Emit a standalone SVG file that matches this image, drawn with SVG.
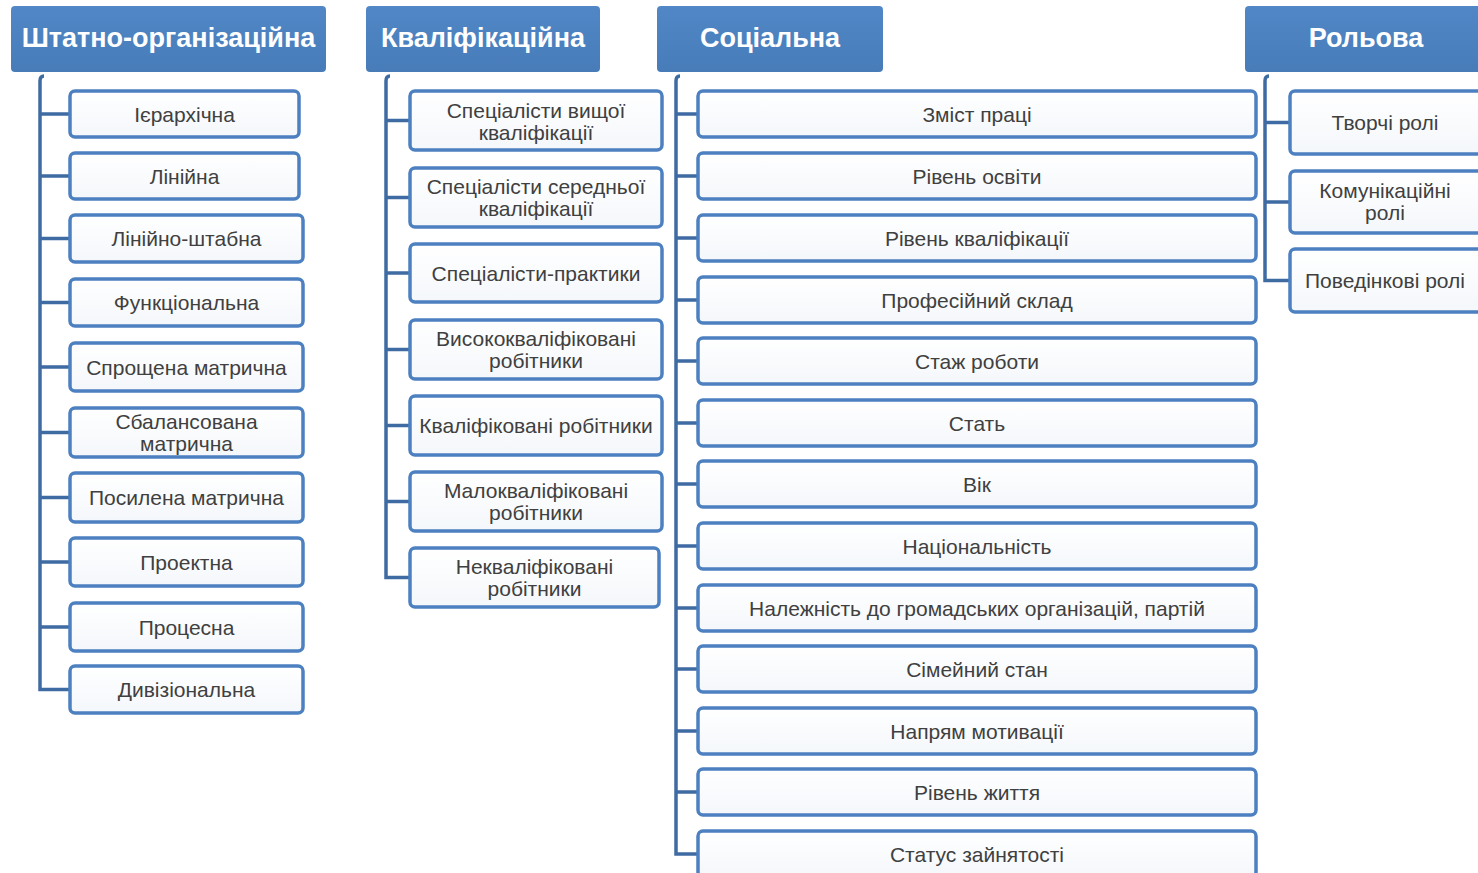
<svg xmlns="http://www.w3.org/2000/svg" width="1478" height="873" viewBox="0 0 1478 873">
<defs>
<linearGradient id="hg" x1="0" y1="0" x2="0" y2="1"><stop offset="0" stop-color="#5187c6"/><stop offset="1" stop-color="#477cb9"/></linearGradient>
<linearGradient id="bg" x1="0" y1="0" x2="0" y2="1"><stop offset="0" stop-color="#ffffff"/><stop offset="1" stop-color="#f4f7fb"/></linearGradient>
</defs>
<style>
.h{fill:url(#hg);}
.ht{fill:#ffffff;font-family:"Liberation Sans",Arial,sans-serif;font-weight:bold;font-size:27px;text-anchor:middle;dominant-baseline:central;}
.b{fill:url(#bg);stroke:#4c80c0;stroke-width:3.5;}
.t{fill:#404040;font-family:"Liberation Sans",Arial,sans-serif;font-size:21px;text-anchor:middle;dominant-baseline:central;}
.c{fill:none;stroke:#3f6ba3;stroke-width:3.5;}
</style>
<rect width="1478" height="873" fill="#ffffff"/>
<g id="connectors">
<path class="c" d="M44,76 Q40,76 40,81 V689.5 H70"/>
<path class="c" d="M40,114 H70 M40,176 H70 M40,238.5 H70 M40,302.5 H70 M40,367 H70 M40,432.5 H70 M40,497.5 H70 M40,562 H70 M40,627 H70"/>
<path class="c" d="M390,76 Q386,76 386,81 V577.5 H410"/>
<path class="c" d="M386,120.5 H410 M386,197.5 H410 M386,273 H410 M386,349.5 H410 M386,425.5 H410 M386,501.5 H410"/>
<path class="c" d="M680,76 Q676,76 676,81 V854 H698"/>
<path class="c" d="M676,114 H698 M676,176 H698 M676,238 H698 M676,300 H698 M676,361 H698 M676,423 H698 M676,484 H698 M676,546 H698 M676,608 H698 M676,669 H698 M676,731 H698 M676,792 H698"/>
<path class="c" d="M1269,76 Q1265,76 1265,81 V280.5 H1290"/>
<path class="c" d="M1265,122.5 H1290 M1265,202 H1290"/>
</g>
<g id="h1"><rect class="h" x="11" y="6" width="315" height="66" rx="4"/><text class="ht" x="168.5" y="38">Штатно-організаційна</text></g>
<g id="h2"><rect class="h" x="366" y="6" width="234" height="66" rx="4"/><text class="ht" x="483" y="38">Кваліфікаційна</text></g>
<g id="h3"><rect class="h" x="657" y="6" width="226" height="66" rx="4"/><text class="ht" x="770" y="38">Соціальна</text></g>
<g id="h4"><rect class="h" x="1245" y="6" width="245" height="66" rx="4"/><text class="ht" x="1366" y="38">Рольова</text></g>

<g id="n1_1"><rect class="b" x="70" y="91" width="229" height="46" rx="5"/><text class="t" x="184.5" y="114">Ієрархічна</text></g>
<g id="n1_2"><rect class="b" x="70" y="153" width="229" height="46" rx="5"/><text class="t" x="184.5" y="176">Лінійна</text></g>
<g id="n1_3"><rect class="b" x="70" y="215" width="233" height="47" rx="5"/><text class="t" x="186.5" y="238.5">Лінійно-штабна</text></g>
<g id="n1_4"><rect class="b" x="70" y="279" width="233" height="47" rx="5"/><text class="t" x="186.5" y="302.5">Функціональна</text></g>
<g id="n1_5"><rect class="b" x="70" y="343" width="233" height="48" rx="5"/><text class="t" x="186.5" y="367">Спрощена матрична</text></g>
<g id="n1_6"><rect class="b" x="70" y="408" width="233" height="49" rx="5"/><text class="t" x="186.5" y="421.5">Сбалансована</text><text class="t" x="186.5" y="443.5">матрична</text></g>
<g id="n1_7"><rect class="b" x="70" y="473" width="233" height="49" rx="5"/><text class="t" x="186.5" y="497.5">Посилена матрична</text></g>
<g id="n1_8"><rect class="b" x="70" y="538" width="233" height="48" rx="5"/><text class="t" x="186.5" y="562">Проектна</text></g>
<g id="n1_9"><rect class="b" x="70" y="603" width="233" height="48" rx="5"/><text class="t" x="186.5" y="627">Процесна</text></g>
<g id="n1_10"><rect class="b" x="70" y="666" width="233" height="47" rx="5"/><text class="t" x="186.5" y="689.5">Дивізіональна</text></g>

<g id="n2_1"><rect class="b" x="410" y="91" width="252" height="59" rx="5"/><text class="t" x="536" y="110">Спеціалісти вищої</text><text class="t" x="536" y="132">кваліфікації</text></g>
<g id="n2_2"><rect class="b" x="410" y="168" width="252" height="59" rx="5"/><text class="t" x="536" y="186.5">Спеціалісти середньої</text><text class="t" x="536" y="208.5">кваліфікації</text></g>
<g id="n2_3"><rect class="b" x="410" y="244" width="252" height="58" rx="5"/><text class="t" x="536" y="273">Спеціалісти-практики</text></g>
<g id="n2_4"><rect class="b" x="410" y="320" width="252" height="59" rx="5"/><text class="t" x="536" y="338.5">Висококваліфіковані</text><text class="t" x="536" y="360.5">робітники</text></g>
<g id="n2_5"><rect class="b" x="410" y="396" width="252" height="59" rx="5"/><text class="t" x="536" y="425.5">Кваліфіковані робітники</text></g>
<g id="n2_6"><rect class="b" x="410" y="472" width="252" height="59" rx="5"/><text class="t" x="536" y="490.5">Малокваліфіковані</text><text class="t" x="536" y="512.5">робітники</text></g>
<g id="n2_7"><rect class="b" x="410" y="548" width="249" height="59" rx="5"/><text class="t" x="534.5" y="566.5">Некваліфіковані</text><text class="t" x="534.5" y="588.5">робітники</text></g>

<g id="n3_1"><rect class="b" x="698" y="91" width="558" height="46" rx="5"/><text class="t" x="977" y="114">Зміст праці</text></g>
<g id="n3_2"><rect class="b" x="698" y="153" width="558" height="46" rx="5"/><text class="t" x="977" y="176">Рівень освіти</text></g>
<g id="n3_3"><rect class="b" x="698" y="215" width="558" height="46" rx="5"/><text class="t" x="977" y="238">Рівень кваліфікації</text></g>
<g id="n3_4"><rect class="b" x="698" y="277" width="558" height="46" rx="5"/><text class="t" x="977" y="300">Професійний склад</text></g>
<g id="n3_5"><rect class="b" x="698" y="338" width="558" height="46" rx="5"/><text class="t" x="977" y="361">Стаж роботи</text></g>
<g id="n3_6"><rect class="b" x="698" y="400" width="558" height="46" rx="5"/><text class="t" x="977" y="423">Стать</text></g>
<g id="n3_7"><rect class="b" x="698" y="461" width="558" height="46" rx="5"/><text class="t" x="977" y="484">Вік</text></g>
<g id="n3_8"><rect class="b" x="698" y="523" width="558" height="46" rx="5"/><text class="t" x="977" y="546">Національність</text></g>
<g id="n3_9"><rect class="b" x="698" y="585" width="558" height="46" rx="5"/><text class="t" x="977" y="608">Належність до громадських організацій, партій</text></g>
<g id="n3_10"><rect class="b" x="698" y="646" width="558" height="46" rx="5"/><text class="t" x="977" y="669">Сімейний стан</text></g>
<g id="n3_11"><rect class="b" x="698" y="708" width="558" height="46" rx="5"/><text class="t" x="977" y="731">Напрям мотивації</text></g>
<g id="n3_12"><rect class="b" x="698" y="769" width="558" height="46" rx="5"/><text class="t" x="977" y="792">Рівень життя</text></g>
<g id="n3_13"><rect class="b" x="698" y="831" width="558" height="46" rx="5"/><text class="t" x="977" y="854">Статус зайнятості</text></g>

<g id="n4_1"><rect class="b" x="1290" y="91" width="200" height="63" rx="5"/><text class="t" x="1385" y="122.5">Творчі ролі</text></g>
<g id="n4_2"><rect class="b" x="1290" y="171" width="200" height="62" rx="5"/><text class="t" x="1385" y="190.5">Комунікаційні</text><text class="t" x="1385" y="212.5">ролі</text></g>
<g id="n4_3"><rect class="b" x="1290" y="249" width="200" height="63" rx="5"/><text class="t" x="1385" y="280.5">Поведінкові ролі</text></g>
</svg>
